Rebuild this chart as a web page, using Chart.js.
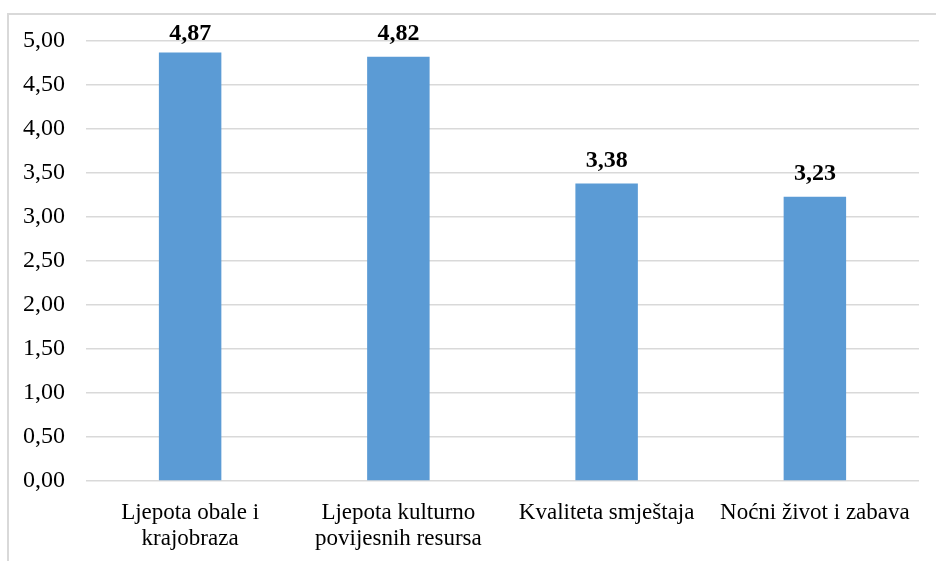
<!DOCTYPE html>
<html lang="hr">
<head>
    <meta charset="UTF-8">
    <title>Ocjene</title>
    <script src="https://cdn.jsdelivr.net/npm/chart.js@4"></script>
    <style>
        body{ margin:0; background:#fff; }
        #wrap{ position:relative; width:936px; height:561px; }
        #frame{
            position:absolute; left:7px; top:13px; right:-2px; bottom:-2px;
            border-top:2px solid #d9d9d9; border-left:2px solid #d9d9d9;
        }
        canvas{ position:absolute; left:0; top:0; }
    </style>
</head>
<body>
    <div id="wrap">
        <div id="frame"></div>
        <canvas id="myBarChart" width="936" height="561"></canvas>
    </div>

    <script>
        // data
        const categories = [
            ['Ljepota obale i', 'krajobraza'],
            ['Ljepota kulturno', 'povijesnih resursa'],
            'Kvaliteta smještaja',
            'Noćni život i zabava'
        ];
        const values = [4.87, 4.82, 3.38, 3.23];
        const yTicks = [0, 0.5, 1, 1.5, 2, 2.5, 3, 3.5, 4, 4.5, 5];

        const fmt = v => v.toFixed(2).replace('.', ',');
        const serif = "'Liberation Serif', 'Times New Roman', serif";

        // bold value labels above the bars (kept inside the top of the chart)
        const valueLabels = {
            id: 'valueLabels',
            afterDatasetsDraw(chart) {
                const ctx = chart.ctx;
                const meta = chart.getDatasetMeta(0);
                ctx.save();
                ctx.font = "bold 24px " + serif;
                ctx.fillStyle = '#000';
                ctx.textAlign = 'center';
                ctx.textBaseline = 'alphabetic';
                meta.data.forEach((bar, i) => {
                    const y = Math.max(bar.y - 17, 40);
                    ctx.fillText(fmt(values[i]), bar.x, y);
                });
                ctx.restore();
            }
        };

        const ctx = document.getElementById('myBarChart').getContext('2d');
        const myBarChart = new Chart(ctx, {
            type: 'bar',
            data: {
                labels: categories,
                datasets: [{
                    data: values,
                    backgroundColor: '#5b9bd5',
                    barPercentage: 0.3,
                    categoryPercentage: 1
                }]
            },
            options: {
                responsive: false,
                animation: false,
                layout: { padding: { top: 41, right: 17, left: 0, bottom: 0 } },
                plugins: {
                    legend: { display: false },
                    tooltip: { enabled: false }
                },
                scales: {
                    x: {
                        grid: { display: false, drawTicks: false },
                        border: { display: false },
                        ticks: {
                            color: '#000',
                            font: { family: serif, size: 23, lineHeight: 1.13 },
                            padding: 19,
                            maxRotation: 0,
                            autoSkip: false
                        },
                        afterFit(scale) { scale.height = 80; }
                    },
                    y: {
                        min: 0,
                        max: 5,
                        afterBuildTicks(scale) {
                            scale.ticks = yTicks.map(v => ({ value: v }));
                        },
                        grid: { color: '#d9d9d9', lineWidth: 1.5, drawTicks: false },
                        border: { display: false },
                        ticks: {
                            color: '#000',
                            font: { family: serif, size: 24 },
                            padding: 21,
                            callback: v => fmt(v)
                        },
                        afterFit(scale) { scale.width = 86; }
                    }
                }
            },
            plugins: [valueLabels]
        });
    </script>
</body>
</html>
